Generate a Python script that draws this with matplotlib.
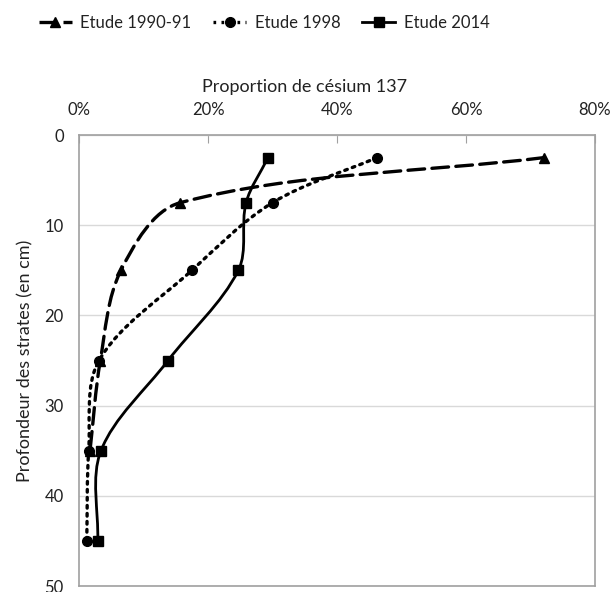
import matplotlib.pyplot as plt
import numpy as np
from matplotlib.path import Path
from matplotlib.patches import PathPatch
from matplotlib.lines import Line2D
from matplotlib.ticker import FuncFormatter

plt.rcParams['font.family'] = ['Lato', 'DejaVu Sans']

# profondeur des strates (cm)
depth_1990 = [2.5, 7.5, 15, 25, 35]
depth_1998 = [2.5, 7.5, 15, 25, 35, 45]
depth_2014 = [2.5, 7.5, 15, 25, 35, 45]

# proportion de césium 137 (%)
cs_1990 = [72.1, 15.7, 6.5, 3.3, 1.7]
cs_1998 = [46.2, 30.0, 17.5, 3.1, 1.5, 1.2]
cs_2014 = [29.3, 25.9, 24.7, 13.8, 3.4, 2.9]

labels = ['Etude 1990-91', 'Etude 1998', 'Etude 2014']
styles = [((0, (5, 2.2)), '^'), ((0, (0.8, 1.6)), 'o'), ('-', 's')]


def smooth_path(ax, xs, ys):
    # courbe lissée façon Excel, calculée en pixels
    trans = ax.transData
    pts = trans.transform(np.column_stack([xs, ys]).astype(float))
    n = len(pts)
    verts = [pts[0]]
    codes = [Path.MOVETO]
    for i in range(n - 1):
        p0 = pts[i - 1] if i > 0 else pts[i]
        p1 = pts[i]
        p2 = pts[i + 1]
        p3 = pts[i + 2] if i + 2 < n else pts[i + 1]
        d01 = np.hypot(*(p1 - p0))
        d12 = np.hypot(*(p2 - p1))
        d23 = np.hypot(*(p3 - p2))
        w1 = d12 / (d01 + d12) if d01 + d12 > 0 else 0.5
        w2 = d12 / (d12 + d23) if d12 + d23 > 0 else 0.5
        c1 = p1 + (p2 - p0) * w1 / 3
        c2 = p2 - (p3 - p1) * w2 / 3
        verts += [c1, c2, p2]
        codes += [Path.CURVE4] * 3
    verts = trans.inverted().transform(np.array(verts))
    return Path(verts, codes)


fig = plt.figure(figsize=(6.14, 5.92), dpi=100)
ax = fig.add_axes([0.1287, 0.0101, 0.8404, 0.7618])
ax.set_xlim(0, 80)
ax.set_ylim(50, 0)

series = [(cs_1990, depth_1990), (cs_1998, depth_1998), (cs_2014, depth_2014)]
handles = []
for (xs, ys), (ls, mk), lab in zip(series, styles, labels):
    lw = 2.0 if ls == '-' else 2.4
    patch = PathPatch(smooth_path(ax, xs, ys), facecolor='none', edgecolor='black',
                      linewidth=lw, linestyle=ls, capstyle='round', zorder=3)
    ax.add_patch(patch)
    ax.plot(xs, ys, linestyle='none', marker=mk, color='black', markersize=7, zorder=4)
    handles.append(Line2D([], [], color='black', linestyle=ls, linewidth=lw,
                          marker=mk, markersize=7, label=lab))

ax.set_xticks([0, 20, 40, 60, 80])
ax.set_yticks([0, 10, 20, 30, 40, 50])
ax.xaxis.set_major_formatter(FuncFormatter(lambda v, p: f'{int(v)}%'))
ax.xaxis.tick_top()
ax.xaxis.set_label_position('top')
ax.tick_params(axis='x', direction='in', length=6, color='#a0a0a0', labelsize=12,
               labelcolor='#222222', pad=12)
ax.tick_params(axis='y', length=0, labelsize=12, labelcolor='#222222', pad=11)
ax.yaxis.grid(True, color='#d9d9d9', linewidth=1)
ax.set_axisbelow(True)
for s in ax.spines.values():
    s.set_color('#a0a0a0')
    s.set_linewidth(1.2)

ax.set_xlabel('Proportion de césium 137', fontsize=13, color='#222222', labelpad=6)
ax.xaxis.set_label_coords(0.438, 1.095)
ax.set_ylabel('Profondeur des strates (en cm)', fontsize=13, color='#222222', labelpad=8)

fig.legend(handles=handles, loc='upper center', bbox_to_anchor=(0.43, 1.0), ncol=3,
           frameon=False, fontsize=12, handlelength=2.0, columnspacing=1.3,
           handletextpad=0.5, labelcolor='#222222')

plt.savefig('out.png', dpi=100)
plt.close()
